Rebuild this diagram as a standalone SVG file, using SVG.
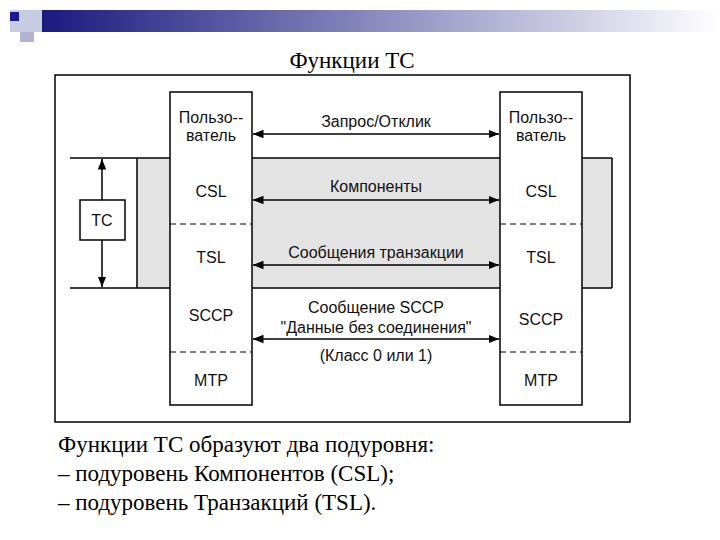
<svg xmlns="http://www.w3.org/2000/svg" width="720" height="540" viewBox="0 0 720 540">
<defs>
<linearGradient id="g" x1="0" x2="1"><stop offset="0" stop-color="#1a1a80"/><stop offset="1" stop-color="#ffffff"/></linearGradient>
<marker id="a" viewBox="0 0 10 10" refX="10" refY="5" markerWidth="7" markerHeight="7" orient="auto-start-reverse"><path d="M0,1 L10,5 L0,9 z" fill="#000"/></marker>
</defs>
<style>
.s{font-family:"Liberation Sans",Arial,sans-serif;font-size:16px;text-anchor:middle;fill:#111}
.t{font-family:"Liberation Serif","Times New Roman",serif;font-size:23px;fill:#000}
.b{fill:#fff;stroke:#000;stroke-width:1.5}
.l{stroke:#000;stroke-width:1.5;fill:none}
.d{stroke:#000;stroke-width:1;stroke-dasharray:6,4}
</style>
<rect width="720" height="540" fill="#fff"/>
<g id="header">
<rect x="10" y="10" width="44" height="22" fill="#c8cce0"/>
<rect x="20" y="32" width="14" height="10" fill="#b0b4d0"/>
<rect x="10" y="12" width="9" height="9" fill="#1a1a90"/>
<rect x="42" y="10" width="678" height="22" fill="url(#g)"/>
</g>
<text x="352" y="68" class="t" font-size="28" text-anchor="middle">Функции TC</text>
<rect x="55" y="75" width="575" height="347" fill="#fff" stroke="#000" stroke-width="1.5"/>
<rect x="137" y="158" width="475" height="130" fill="#e3e3e3"/>
<g id="connectors">
<line x1="70" y1="158" x2="612" y2="158" class="l"/>
<line x1="70" y1="288" x2="612" y2="288" class="l"/>
<line x1="137" y1="158" x2="137" y2="288" class="l"/>
<line x1="612" y1="158" x2="612" y2="288" class="l"/>
<line x1="102" y1="200" x2="102" y2="159" class="l" marker-end="url(#a)"/>
<line x1="102" y1="240" x2="102" y2="287" class="l" marker-end="url(#a)"/>
<line x1="253" y1="134" x2="499" y2="134" class="l" marker-start="url(#a)" marker-end="url(#a)"/>
<line x1="253" y1="200" x2="499" y2="200" class="l" marker-start="url(#a)" marker-end="url(#a)"/>
<line x1="253" y1="265" x2="499" y2="265" class="l" marker-start="url(#a)" marker-end="url(#a)"/>
<line x1="253" y1="339" x2="499" y2="339" class="l" marker-start="url(#a)" marker-end="url(#a)"/>
</g>
<g id="left-stack">
<rect x="170" y="92" width="82" height="313" class="b"/>
<line x1="170" y1="224" x2="252" y2="224" class="d"/>
<line x1="170" y1="352" x2="252" y2="352" class="d"/>
<text x="211" y="123" class="s">Пользо--</text>
<text x="211" y="141" class="s">ватель</text>
<text x="211" y="197" class="s">CSL</text>
<text x="211" y="263" class="s">TSL</text>
<text x="211" y="321" class="s">SCCP</text>
<text x="211" y="386" class="s">MTP</text>
</g>
<g id="right-stack">
<rect x="500" y="92" width="82" height="313" class="b"/>
<line x1="500" y1="224" x2="582" y2="224" class="d"/>
<line x1="500" y1="352" x2="582" y2="352" class="d"/>
<text x="541" y="123" class="s">Пользо--</text>
<text x="541" y="141" class="s">ватель</text>
<text x="541" y="197" class="s">CSL</text>
<text x="541" y="263" class="s">TSL</text>
<text x="541" y="325" class="s">SCCP</text>
<text x="541" y="386" class="s">MTP</text>
</g>
<g id="tc">
<rect x="80" y="200" width="45" height="40" class="b"/>
<text x="102" y="226" class="s">TC</text>
</g>
<g id="labels">
<text x="376" y="127" class="s">Запрос/Отклик</text>
<text x="376" y="192" class="s">Компоненты</text>
<text x="376" y="258" class="s">Сообщения транзакции</text>
<text x="376" y="313" class="s">Сообщение SCCP</text>
<text x="376" y="333" class="s">"Данные без соединения"</text>
<text x="376" y="361" class="s">(Класс 0 или 1)</text>
</g>
<text x="58" y="452" class="t">Функции TC образуют два подуровня:</text>
<text x="58" y="481" class="t">– подуровень Компонентов (CSL);</text>
<text x="58" y="510" class="t">– подуровень Транзакций (TSL).</text>
</svg>
